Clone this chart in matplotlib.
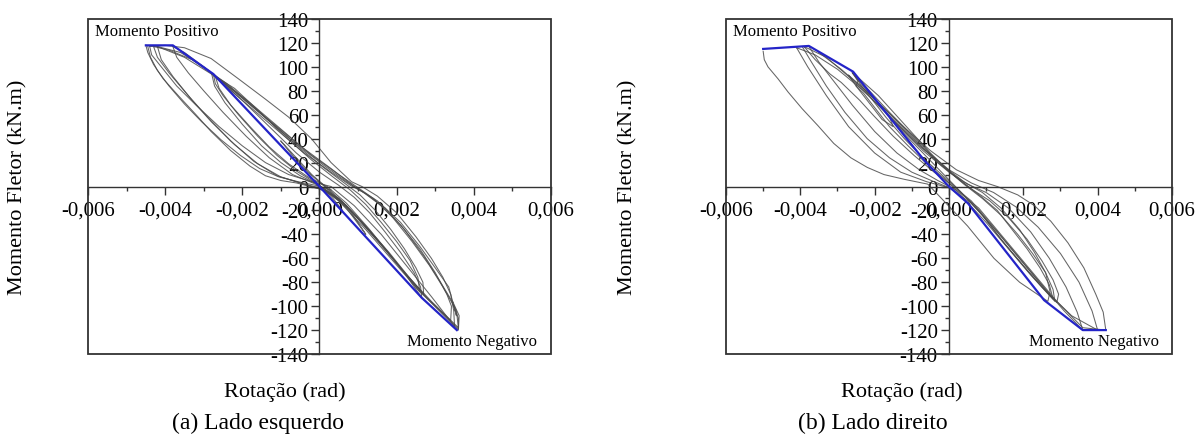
import numpy as np
import matplotlib
matplotlib.use("Agg")
import matplotlib.pyplot as plt
from matplotlib.ticker import MultipleLocator, FuncFormatter
from matplotlib.patches import Rectangle

plt.rcParams['font.family'] = ['Liberation Serif', 'DejaVu Serif']
plt.rcParams['axes.unicode_minus'] = False

# rotation in mrad, moment in kN.m
# (a) lado esquerdo
env_a_x = [-4.5, -3.8, -2.75, 0, 2.65, 3.56]
env_a_y = [118, 118, 94, 0, -93, -120]

loops_a = [
    ([-0.3, -0.1, 0.1, 0.35, 0.6, 0.4, 0.15, -0.1, -0.3],
     [10, 4, -2, -10, -20, -14, -5, 3, 10]),
    ([-1.0, -0.7, -0.3, 0.2, 0.7, 1.2, 1.0, 0.7, 0.3, -0.2, -0.6, -1.0],
     [38, 26, 12, -2, -18, -40, -30, -16, -4, 10, 24, 38]),
    ([-2.75, -2.7, -2.5, -2.1, -1.6, -1.1, -0.6, -0.1, 0.5, 1.1, 1.7, 2.2, 2.65,
      2.62, 2.45, 2.1, 1.7, 1.3, 0.9, 0.5, 0.0, -0.6, -1.3, -2.0, -2.75],
     [94, 86, 76, 60, 42, 26, 13, 3, -10, -30, -52, -72, -93,
      -84, -72, -55, -38, -22, -9, 1, 12, 28, 50, 72, 94]),
    ([-2.8, -2.72, -2.45, -2.0, -1.5, -1.0, -0.5, 0.0, 0.6, 1.2, 1.8, 2.3, 2.7,
      2.68, 2.5, 2.2, 1.85, 1.45, 1.05, 0.6, 0.1, -0.5, -1.2, -1.9, -2.4, -2.8],
     [95, 84, 70, 52, 34, 20, 9, 1, -13, -33, -55, -75, -90,
      -80, -68, -52, -36, -20, -7, 4, 16, 32, 52, 72, 86, 95]),
    ([-2.7, -2.6, -2.3, -1.8, -1.3, -0.8, -0.3, 0.2, 0.7, 1.3, 1.9, 2.6,
      2.55, 2.35, 2.0, 1.6, 1.2, 0.8, 0.35, -0.2, -0.9, -1.6, -2.2, -2.7],
     [92, 82, 68, 50, 33, 19, 8, 0, -14, -36, -60, -88,
      -76, -62, -46, -30, -15, -3, 8, 22, 42, 64, 82, 92]),
    ([-3.8, -3.7, -3.4, -3.0, -2.5, -1.9, -1.3, -0.7, -0.1, 0.5, 1.2, 1.9, 2.6, 3.4,
      3.42, 3.3, 3.0, 2.6, 2.1, 1.6, 1.1, 0.7, 0.1, -0.7, -1.5, -2.3, -3.0, -3.5, -3.8],
     [117, 108, 95, 80, 62, 42, 24, 10, 2, -12, -36, -62, -88, -112,
      -100, -90, -72, -52, -32, -16, -4, 4, 18, 38, 60, 82, 100, 112, 117]),
    ([-4.2, -4.1, -3.8, -3.3, -2.8, -2.2, -1.6, -1.0, -0.4, 0.2, 0.8, 1.5, 2.2, 2.9, 3.6,
      3.55, 3.4, 3.1, 2.7, 2.2, 1.7, 1.2, 0.8, 0.3, -0.4, -1.2, -2.0, -2.8, -3.5, -4.2],
     [117, 106, 92, 72, 54, 35, 19, 8, 2, -4, -20, -45, -72, -96, -118,
      -104, -94, -78, -58, -36, -18, -6, 1, 12, 28, 50, 72, 94, 108, 117]),
    ([-4.5, -4.45, -4.3, -4.05, -3.66, -3.2, -2.81, -2.3, -1.8, -1.4, -1.0, -0.6, 0.0, 0.5, 1.0, 1.6, 2.2, 2.8, 3.6,
      3.62, 3.45, 3.55, 3.35, 3.0, 2.6, 2.1, 1.5, 0.9, 0.3, -0.5, -1.4, -2.3, -3.0, -3.6, -4.2, -4.5],
     [118, 112, 102, 90, 76, 60, 46, 30, 17, 9, 5, 3, -2, -10, -26, -48, -72, -94, -120,
      -108, -96, -108, -84, -68, -50, -30, -12, 0, 15, 34, 58, 82, 100, 112, 117, 118]),
    ([-4.4, -4.35, -4.1, -3.7, -3.2, -2.6, -2.0, -1.4, -0.8, -0.2, 0.3, 0.9, 1.6, 2.3, 2.9, 3.5,
      3.48, 3.4, 3.2, 2.9, 2.5, 2.0, 1.5, 1.1, 0.83, 0.3, -0.21, -0.8, -1.4, -2.1, -2.81, -3.5, -4.0, -4.4],
     [117, 110, 100, 84, 68, 50, 34, 20, 10, 4, 0, -16, -40, -68, -92, -117,
      -104, -90, -76, -60, -42, -22, -8, 0, 4, 20, 40, 58, 73, 90, 107, 116, 118, 117]),
    ([-4.3, -4.2, -3.9, -3.4, -2.9, -2.3, -1.7, -1.1, -0.5, 0.1, 0.7, 1.3, 2.0, 2.7, 3.6,
      3.6, 3.45, 3.2, 2.85, 2.4, 1.9, 1.4, 1.0, 0.5, -0.2, -1.0, -1.8, -2.6, -3.3, -3.9, -4.3],
     [117, 108, 95, 76, 58, 38, 21, 9, 3, -2, -16, -38, -64, -90, -119,
      -110, -98, -84, -66, -46, -26, -10, -1, 10, 26, 48, 70, 90, 106, 114, 117]),
    ([-4.45, -4.38, -4.2, -3.9, -3.5, -3.05, -2.55, -2.05, -1.55, -1.05, -0.55, -0.1, 0.3],
     [117, 108, 97, 84, 69, 54, 39, 26, 15, 8, 4, 1, -3]),
]

# (b) lado direito
env_b_x = [-5.0, -3.77, -2.58, -0.67, 0, 0.51, 2.56, 3.6, 4.22]
env_b_y = [115, 117.5, 96, 22, 0, -14, -95, -120, -120]

loops_b = [
    ([-5.0, -4.97, -4.87, -4.6, -4.33, -3.95, -3.53, -3.1, -2.64, -2.2, -1.75, -1.2, -0.57, -0.2, 0.5, 1.21, 1.9, 2.66,
      2.72, 2.6, 2.3, 1.9, 1.4, 0.9, 0.4, -0.1, -0.8, -1.5, -2.1, -2.6],
     [113, 106, 100, 90, 79, 65, 51, 36, 24, 16, 10, 6, 2, -10, -33, -60, -80, -96,
      -88, -72, -55, -36, -18, -5, 4, 16, 34, 55, 76, 95]),
    ([-2.6, -2.45, -2.5, -2.3, -2.0, -1.6, -1.1, -0.6, -0.1, 0.4, 1.0, 1.6, 2.2, 2.85,
      2.8, 2.6, 2.25, 1.85, 1.4, 0.9, 0.4, -0.2, -0.9, -1.6, -2.2, -2.6],
     [95, 88, 84, 78, 66, 50, 34, 19, 6, -10, -30, -52, -74, -96,
      -86, -72, -56, -40, -24, -10, 2, 18, 40, 62, 82, 95]),
    ([-2.7, -2.5, -2.1, -1.8, -1.5, -1.6, -1.2, -0.7, -0.2, 0.3, 0.9, 1.5, 2.1, 2.8,
      2.7, 2.45, 2.1, 1.7, 1.3, 0.85, 0.35, -0.3, -1.0, -1.7, -2.3, -2.7],
     [93, 84, 68, 56, 50, 58, 44, 28, 12, -4, -24, -48, -70, -94,
      -82, -68, -52, -36, -20, -8, 4, 20, 42, 64, 82, 93]),
    ([-2.55, -2.4, -2.1, -1.7, -1.2, -0.7, -0.2, 0.3, 0.8, 1.4, 2.0, 2.5, 2.9,
      2.95, 2.8, 2.5, 2.1, 1.6, 1.1, 0.6, 0.1, -0.5, -1.2, -1.9, -2.55],
     [94, 86, 74, 58, 40, 24, 10, -4, -20, -44, -66, -84, -97,
      -90, -78, -62, -44, -26, -12, -2, 10, 28, 52, 76, 94]),
    ([-3.9, -3.6, -3.2, -2.9, -2.4, -2.02, -1.5, -0.94, -0.4, 0.0, 0.6, 1.2, 1.9, 2.6, 3.1, 3.6,
      3.45, 3.15, 2.7, 2.2, 1.6, 1.0, 0.5, 0.0, -0.7, -1.4, -2.1, -2.7, -3.3, -3.9],
     [117, 106, 94, 87, 72, 59, 42, 26, 12, 3, -12, -34, -60, -86, -104, -120,
      -105, -84, -60, -38, -18, -5, 2, 12, 30, 52, 74, 92, 108, 117]),
    ([-4.1, -3.8, -3.3, -2.7, -2.0, -1.3, -0.6, 0.0, 0.6, 1.3, 2.0, 2.7, 3.3, 4.0,
      3.85, 3.5, 3.0, 2.4, 1.8, 1.2, 0.6, 0.0, -0.7, -1.5, -2.3, -3.0, -3.6, -4.1],
     [116, 100, 76, 50, 28, 12, 4, -1, -14, -38, -64, -90, -108, -120,
      -104, -80, -56, -34, -17, -5, 3, 14, 32, 56, 80, 98, 110, 116]),
    ([-3.77, -3.5, -3.1, -2.6, -2.0, -1.4, -0.8, -0.3, 0.2, 0.8, 1.5, 2.2, 2.9, 3.6, 4.22,
      4.15, 3.95, 3.63, 3.2, 2.74, 2.3, 1.85, 1.3, 0.8, 0.2, -0.5, -1.3, -2.1, -2.9, -3.5],
     [117, 104, 88, 68, 46, 28, 14, 5, -3, -18, -44, -70, -96, -118, -120,
      -105, -90, -68, -47, -29, -16, -7, 0, 5, 14, 30, 52, 76, 98, 112]),
    ([-3.95, -3.7, -3.3, -2.8, -2.2, -1.6, -1.0, -0.4, 0.1],
     [117, 104, 84, 62, 40, 24, 12, 4, -2]),
]

x_ticks_lbl = lambda v, p: ("%.3f" % (v / 1000.0 if abs(v) > 1e-9 else 0.0)).replace('.', ',')
y_ticks_lbl = lambda v, p: "%d" % round(v)

fig = plt.figure(figsize=(12.02, 4.39), dpi=100)
ax_a = fig.add_axes([0.0732, 0.1913, 0.3852, 0.7631])
ax_b = fig.add_axes([0.604, 0.1913, 0.371, 0.7631])

panels = [(ax_a, loops_a, env_a_x, env_a_y), (ax_b, loops_b, env_b_x, env_b_y)]
for ax, loops, ex, ey in panels:
    for lx, ly in loops:
        ax.plot(lx, ly, color='#4a4a4a', lw=0.75, alpha=0.85)
    ax.plot(ex, ey, color='#2424c8', lw=1.6, zorder=5)
    ax.set_xlim(-6, 6)
    ax.set_ylim(-140, 140)
    for s in ['top', 'right']:
        ax.spines[s].set_visible(False)
    ax.spines['left'].set_position('zero')
    ax.spines['bottom'].set_position('zero')
    for s in ['left', 'bottom']:
        ax.spines[s].set_color('#333333')
        ax.spines[s].set_linewidth(1.0)
    ax.add_patch(Rectangle((0, 0), 1, 1, transform=ax.transAxes, fill=False,
                           ec='#333333', lw=1.3, clip_on=False, zorder=6))
    ax.xaxis.set_major_locator(MultipleLocator(2))
    ax.xaxis.set_minor_locator(MultipleLocator(1))
    ax.yaxis.set_major_locator(MultipleLocator(20))
    ax.yaxis.set_minor_locator(MultipleLocator(10))
    ax.xaxis.set_major_formatter(FuncFormatter(x_ticks_lbl))
    ax.yaxis.set_major_formatter(FuncFormatter(y_ticks_lbl))
    ax.tick_params(which='major', direction='out', length=6, width=1, color='#333333',
                   labelsize=15, pad=2)
    ax.tick_params(which='minor', direction='out', length=3, width=1, color='#333333')
    ax.tick_params(axis='x', which='major', pad=4)
    ax.text(0.015, 0.965, 'Momento Positivo', transform=ax.transAxes, fontsize=12,
            ha='left', va='center')
    ax.text(0.97, 0.04, 'Momento Negativo', transform=ax.transAxes, fontsize=12,
            ha='right', va='center')

fig.text(0.015, 0.574, 'Momento Fletor (kN.m)', rotation=90, ha='center', va='center', fontsize=16)
fig.text(0.5225, 0.574, 'Momento Fletor (kN.m)', rotation=90, ha='center', va='center', fontsize=16)
fig.text(0.237, 0.107, 'Rotação (rad)', ha='center', va='center', fontsize=16)
fig.text(0.750, 0.107, 'Rotação (rad)', ha='center', va='center', fontsize=16)
fig.text(0.2146, 0.036, '(a) Lado esquerdo', ha='center', va='center', fontsize=17)
fig.text(0.726, 0.036, '(b) Lado direito', ha='center', va='center', fontsize=17)

fig.savefig('out.png', dpi=100)
